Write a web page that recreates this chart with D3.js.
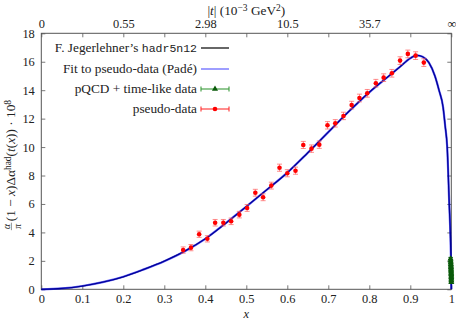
<!DOCTYPE html>
<html><head><meta charset="utf-8">
<script src="https://cdn.jsdelivr.net/npm/d3@7"></script>
<style>
body{margin:0;background:#fff;}
svg text{font-family:"Liberation Serif","DejaVu Serif",serif;fill:#222;}
</style></head>
<body><svg id="c" width="456" height="320"></svg>
<script>
// ---- data ----
const curveX = [0,0.05,0.1,0.15,0.2,0.25,0.3,0.35,0.4,0.45,0.5,0.55,0.6,0.65,0.7,0.75,0.8,0.85,0.875,0.9,0.915,0.93,0.945,0.96,0.97,0.98,0.985,0.99,0.995,0.998,0.999,1];
const jegerY = [0,0.06,0.23,0.5,0.88,1.4,1.98,2.68,3.55,4.65,5.82,7.0,8.2,9.6,11.05,12.5,13.85,15.05,15.65,16.25,16.45,16.35,15.95,15.0,14.0,12.8,11.5,10.0,6.0,3.6,2.3,0];
const fitY   = [0,0.06,0.23,0.5,0.88,1.4,1.98,2.68,3.55,4.65,5.82,7.0,8.2,9.6,11.05,12.5,13.85,15.05,15.65,16.25,16.45,16.35,15.95,15.0,14.0,12.8,11.5,10.0,6.0,3.6,2.3,0];
const pseudoX = [0.346,0.365,0.385,0.405,0.424,0.444,0.463,0.483,0.502,0.522,0.541,0.561,0.581,0.600,0.620,0.639,0.659,0.678,0.698,0.717,0.737,0.757,0.776,0.795,0.816,0.835,0.855,0.875,0.894,0.913,0.933];
const pseudoY = [2.76,2.93,3.87,3.55,4.68,4.68,4.78,5.25,5.72,6.79,6.47,7.29,8.55,8.16,8.34,10.15,9.89,10.17,11.53,11.67,12.19,12.95,13.45,13.78,14.49,14.88,15.19,16.08,16.55,16.43,15.94];
const pseudoErr = [0.22,0.22,0.22,0.22,0.23,0.23,0.23,0.23,0.24,0.24,0.24,0.24,0.25,0.25,0.25,0.25,0.26,0.26,0.26,0.26,0.26,0.27,0.27,0.27,0.27,0.27,0.27,0.27,0.27,0.27,0.27];
const pqcdX = [0.9984,0.9986,0.9988,0.9990,0.9991,0.9992,0.9993,0.9994,0.9995,0.9996,0.9997,0.9998,0.99985,0.9999,0.99995,1.0];
const pqcdY = [2.15,2.0,1.88,1.76,1.65,1.55,1.45,1.35,1.25,1.15,1.05,0.95,0.85,0.75,0.62,0.5];
const pqcdErr = [0.08,0.08,0.08,0.08,0.08,0.07,0.07,0.07,0.07,0.07,0.06,0.06,0.06,0.06,0.05,0.05];
const xTicks = [0,0.1,0.2,0.3,0.4,0.5,0.6,0.7,0.8,0.9,1];
const yTicks = [0,2,4,6,8,10,12,14,16,18];
const topTickLabels = ["0","","0.55","","2.98","","10.5","","35.7","","∞"];
const legendLabels = ["F. Jegerlehner’s ","Fit to pseudo-data (Padé)","pQCD + time-like data","pseudo-data"];

// ---- layout ----
const svg = d3.select("#c");
const L=41.3, R=451.3, T=33.3, B=289.3;
const x = d3.scaleLinear().domain([0,1]).range([L,R]);
const y = d3.scaleLinear().domain([0,18]).range([B,T]);
const axisCol = "#555";
const FS = "12.4px";
const LFS = "13.3px";

function styleAxis(g){
  g.select(".domain").remove();
  g.selectAll(".tick line").attr("stroke",axisCol).attr("stroke-width",0.8);
  g.selectAll(".tick text").style("font-family","Liberation Serif, serif").style("font-size",FS).attr("fill","#222");
}
svg.append("g").attr("transform",`translate(0,${B})`)
  .call(d3.axisBottom(x).tickValues(xTicks).tickSize(-4).tickPadding(4.5).tickFormat(d=>d3.format("")(+d.toFixed(1))))
  .call(styleAxis);
svg.append("g").attr("transform",`translate(0,${T})`)
  .call(d3.axisTop(x).tickValues(xTicks).tickSize(-4).tickPadding(5.5).tickFormat((d,i)=>topTickLabels[i]))
  .call(styleAxis);
svg.append("g").attr("transform",`translate(${L},0)`)
  .call(d3.axisLeft(y).tickValues(yTicks).tickSize(-4).tickPadding(6.5))
  .call(styleAxis);
svg.append("g").attr("transform",`translate(${R},0)`)
  .call(d3.axisRight(y).tickValues(yTicks).tickSize(-4).tickFormat(""))
  .call(styleAxis);
svg.append("rect").attr("x",L).attr("y",T).attr("width",R-L).attr("height",B-T)
  .attr("fill","none").attr("stroke",axisCol).attr("stroke-width",1);

// axis titles
svg.append("text").attr("x",x(0.5)).attr("y",B+29).attr("text-anchor","middle")
  .style("font-style","italic").style("font-size","12.4px").text("x");
const tt = svg.append("text").attr("x",x(0.5)).attr("y",15).attr("text-anchor","middle").style("font-size",LFS);
tt.append("tspan").text("|");
tt.append("tspan").style("font-style","italic").text("t");
tt.append("tspan").text("| (10");
tt.append("tspan").attr("dy",-4.5).style("font-size","9.5px").text("−3");
tt.append("tspan").attr("dy",4.5).text(" GeV");
tt.append("tspan").attr("dy",-4.5).style("font-size","9.5px").text("2");
tt.append("tspan").attr("dy",4.5).text(")");

// y label
const yl = svg.append("g").attr("transform",`translate(15,${(T+B)/2+4}) rotate(-90)`);
const ylt = yl.append("text").attr("x",0).attr("y",0).style("font-size",LFS);
ylt.append("tspan").text("(1 − ");
ylt.append("tspan").style("font-style","italic").text("x");
ylt.append("tspan").text(")Δα");
ylt.append("tspan").attr("dy",-4.5).style("font-size","9.5px").text("had");
ylt.append("tspan").attr("dy",4.5).text("(");
ylt.append("tspan").style("font-style","italic").text("t");
ylt.append("tspan").text("(");
ylt.append("tspan").style("font-style","italic").text("x");
ylt.append("tspan").text(")) · 10");
ylt.append("tspan").attr("dy",-4.5).style("font-size","9.5px").text("8");
const w = ylt.node().getComputedTextLength();
const fracW = 9.5;
const start = -(w+fracW)/2;
ylt.attr("x",start+fracW);
yl.append("text").attr("x",start+fracW/2-0.5).attr("y",-5.5).attr("text-anchor","middle").style("font-size","9.5px").style("font-style","italic").text("α");
yl.append("text").attr("x",start+fracW/2-0.5).attr("y",5.5).attr("text-anchor","middle").style("font-size","9.5px").style("font-style","italic").text("π");
yl.append("line").attr("x1",start+0.5).attr("x2",start+fracW-1.5).attr("y1",-3.6).attr("y2",-3.6).attr("stroke","#222").attr("stroke-width",0.5);

// ---- curves ----
const line = d3.line().x(d=>x(d[0])).y(d=>y(d[1])).curve(d3.curveMonotoneX);
svg.append("path").datum(curveX.map((v,i)=>[v,jegerY[i]])).attr("d",line)
  .attr("fill","none").attr("stroke","#000").attr("stroke-width",1.3);
svg.append("path").datum(curveX.map((v,i)=>[v,fitY[i]])).attr("d",line)
  .attr("fill","none").attr("stroke","#0000ff").attr("stroke-opacity",0.6).attr("stroke-width",2.2);

// ---- pseudo-data ----
const pd = pseudoX.map((v,i)=>({x:v,y:pseudoY[i],e:pseudoErr[i]}));
const eb = svg.append("g").attr("stroke","#ff5050").attr("stroke-opacity",0.65).attr("stroke-width",1);
pd.forEach(d=>{
  eb.append("line").attr("x1",x(d.x)).attr("x2",x(d.x)).attr("y1",y(d.y-d.e)).attr("y2",y(d.y+d.e));
  eb.append("line").attr("x1",x(d.x)-2.5).attr("x2",x(d.x)+2.5).attr("y1",y(d.y-d.e)).attr("y2",y(d.y-d.e));
  eb.append("line").attr("x1",x(d.x)-2.5).attr("x2",x(d.x)+2.5).attr("y1",y(d.y+d.e)).attr("y2",y(d.y+d.e));
});
svg.append("g").selectAll("circle").data(pd).join("circle")
  .attr("cx",d=>x(d.x)).attr("cy",d=>y(d.y)).attr("r",2.3).attr("fill","#ff0000");

// ---- pQCD + time-like ----
const gd = pqcdX.map((v,i)=>({x:v,y:pqcdY[i],e:pqcdErr[i]}));
const gb = svg.append("g").attr("stroke","#0b640b").attr("stroke-width",1.4);
gd.forEach(d=>{
  gb.append("line").attr("x1",x(d.x)).attr("x2",x(d.x)).attr("y1",y(d.y-d.e)).attr("y2",y(d.y+d.e));
  gb.append("line").attr("x1",x(d.x)-2.2).attr("x2",x(d.x)+2.2).attr("y1",y(d.y-d.e)).attr("y2",y(d.y-d.e));
  gb.append("line").attr("x1",x(d.x)-2.2).attr("x2",x(d.x)+2.2).attr("y1",y(d.y+d.e)).attr("y2",y(d.y+d.e));
});
const tri = d3.symbol().type(d3.symbolTriangle).size(16);
svg.append("g").selectAll("path").data(gd).join("path")
  .attr("transform",d=>`translate(${x(d.x)},${y(d.y)})`).attr("d",tri).attr("fill","#0b5a0b");

// ---- legend ----
const lgX = 197, s0 = 201, s1 = 229, rows=[48,69,89,109];
legendLabels.forEach((t,i)=>{
  const tx = svg.append("text").attr("x",lgX).attr("y",rows[i]+4).attr("text-anchor","end").style("font-size",LFS);
  tx.append("tspan").text(t);
  if(i===0) tx.append("tspan").style("font-family","Liberation Mono, DejaVu Sans Mono, monospace").style("font-size","11.5px").text("hadr5n12");
});
svg.append("line").attr("x1",s0).attr("x2",s1).attr("y1",rows[0]).attr("y2",rows[0]).attr("stroke","#000").attr("stroke-width",1.2);
svg.append("line").attr("x1",s0).attr("x2",s1).attr("y1",rows[1]).attr("y2",rows[1]).attr("stroke","#0000ff").attr("stroke-opacity",0.55).attr("stroke-width",1.4);
[[rows[2],"#3a9a3a","#0a5a0a"],[rows[3],"#ff3030","#ff0000"]].forEach(([ry,c,m],k)=>{
  const g = svg.append("g").attr("stroke",c).attr("stroke-width",1.1);
  g.append("line").attr("x1",s0).attr("x2",s1).attr("y1",ry).attr("y2",ry);
  g.append("line").attr("x1",s0).attr("x2",s0).attr("y1",ry-2.5).attr("y2",ry+2.5);
  g.append("line").attr("x1",s1).attr("x2",s1).attr("y1",ry-2.5).attr("y2",ry+2.5);
  if(k===0) svg.append("path").attr("transform",`translate(${(s0+s1)/2},${ry})`).attr("d",tri).attr("fill",m);
  else svg.append("circle").attr("cx",(s0+s1)/2).attr("cy",ry).attr("r",2.3).attr("fill",m);
});
</script></body></html>
